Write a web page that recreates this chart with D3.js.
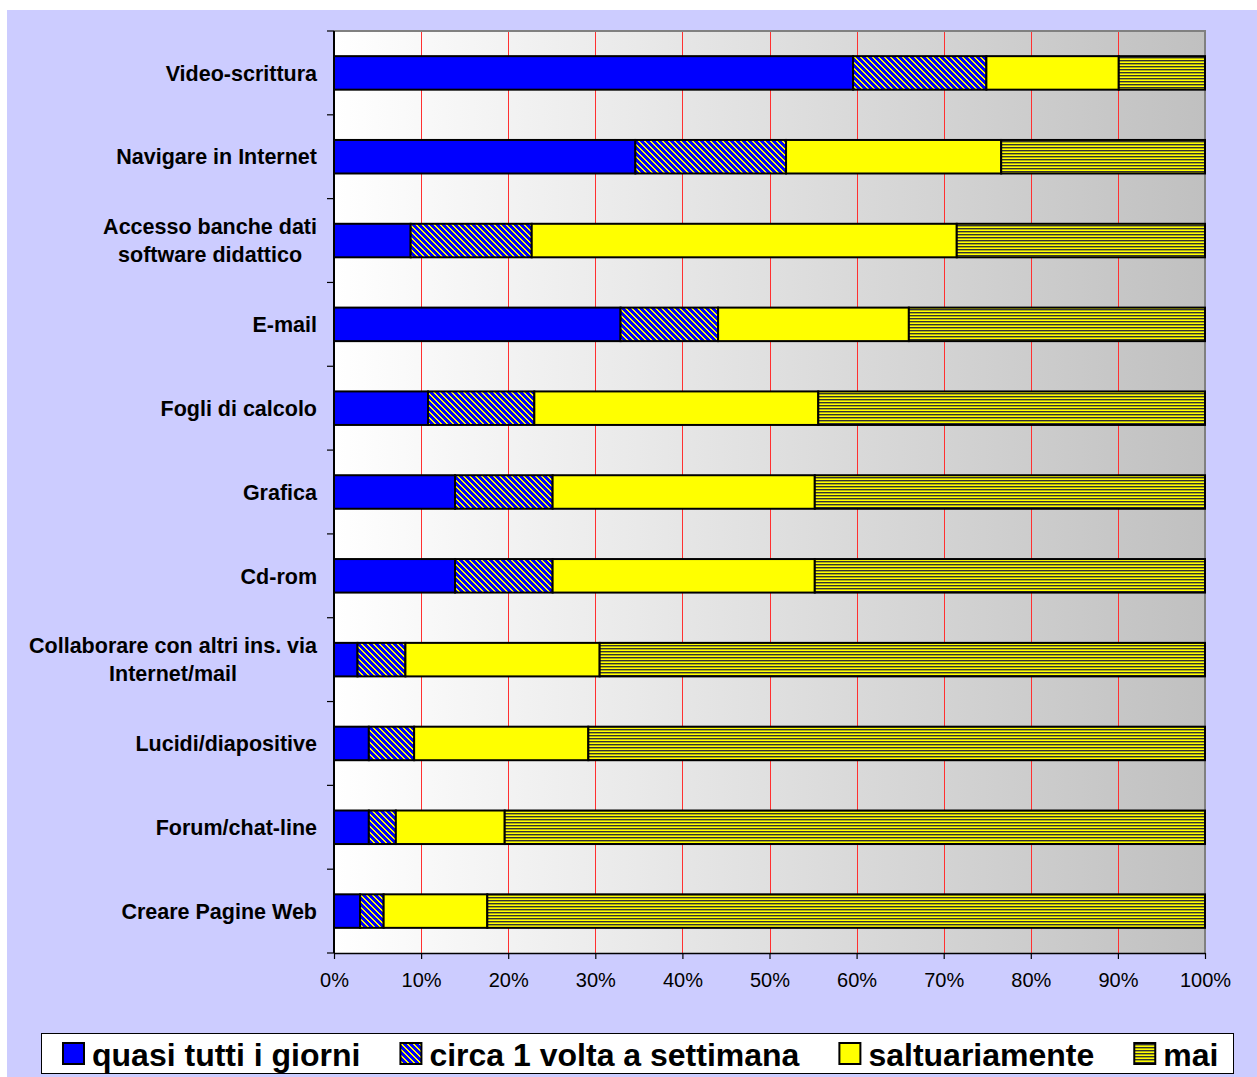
<!DOCTYPE html>
<html>
<head>
<meta charset="utf-8">
<script src="https://cdn.jsdelivr.net/npm/d3@7"></script>
<style>
  html, body { margin: 0; padding: 0; background: #ffffff; }
  svg { display: block; font-family: "Liberation Sans", Arial, sans-serif; }
</style>
</head>
<body>
<svg id="chart" width="1257" height="1077"></svg>
<script>
// Activity categories (top to bottom); "\n" splits a label over two lines
const categories = [
  "Video-scrittura",
  "Navigare in Internet",
  "Accesso banche dati\nsoftware didattico",
  "E-mail",
  "Fogli di calcolo",
  "Grafica",
  "Cd-rom",
  "Collaborare con altri ins. via\nInternet/mail",
  "Lucidi/diapositive",
  "Forum/chat-line",
  "Creare Pagine Web"
];

// Frequency of use, percentages per category
const seriesNames = ["quasi tutti i giorni", "circa 1 volta a settimana", "saltuariamente", "mai"];
const quasiTutti   = [59.6, 34.6,  8.8, 32.9, 10.8, 13.9, 13.9,  2.7,  4.0,  4.0,  3.0];
const circaSett    = [15.3, 17.3, 13.9, 11.2, 12.2, 11.2, 11.2,  5.5,  5.2,  3.1,  2.7];
const saltuario    = [15.2, 24.7, 48.8, 21.9, 32.6, 30.1, 30.1, 22.3, 20.0, 12.5, 11.9];
const mai          = [ 9.9, 23.4, 28.5, 34.0, 44.4, 44.8, 44.8, 69.5, 70.8, 80.4, 82.4];

const tickValues = [0, 10, 20, 30, 40, 50, 60, 70, 80, 90, 100];

const rows = categories.map((c, i) => ({
  cat: c,
  [seriesNames[0]]: quasiTutti[i],
  [seriesNames[1]]: circaSett[i],
  [seriesNames[2]]: saltuario[i],
  [seriesNames[3]]: mai[i]
}));

const svg = d3.select("#chart");
const W = 1257, H = 1077;
const plot = { left: 334, right: 1205, top: 31, bottom: 953 };

// ---- definitions: fills ----
const defs = svg.append("defs");

const grad = defs.append("linearGradient").attr("id", "plotBg")
  .attr("x1", "0").attr("y1", "0").attr("x2", "1").attr("y2", "0");
grad.append("stop").attr("offset", "0").attr("stop-color", "#ffffff");
grad.append("stop").attr("offset", "1").attr("stop-color", "#c0c0c0");

// diagonal blue/yellow hatch (downward diagonal)
const diag = defs.append("pattern").attr("id", "diag")
  .attr("patternUnits", "userSpaceOnUse").attr("width", 6).attr("height", 6);
diag.append("rect").attr("width", 6).attr("height", 6).attr("fill", "#ffff00")
  .attr("shape-rendering", "crispEdges");
diag.append("path")
  .attr("d", "M0,0 L4,0 L6,2 L6,6 Z M0,2 L4,6 L0,6 Z")
  .attr("fill", "#0000ff")
  .attr("shape-rendering", "crispEdges");

// horizontal dark/yellow stripes
const horiz = defs.append("pattern").attr("id", "horiz")
  .attr("patternUnits", "userSpaceOnUse").attr("width", 6).attr("height", 3);
horiz.append("rect").attr("width", 6).attr("height", 3).attr("fill", "#ffff00");
horiz.append("rect").attr("y", 0).attr("width", 6).attr("height", 1.4).attr("fill", "#333333");

const fills = {
  [seriesNames[0]]: "#0000ff",
  [seriesNames[1]]: "url(#diag)",
  [seriesNames[2]]: "#ffff00",
  [seriesNames[3]]: "url(#horiz)"
};

// ---- backgrounds ----
svg.append("rect").attr("x", 7).attr("y", 10).attr("width", W - 7).attr("height", H - 10)
  .attr("fill", "#ccccff");

svg.append("rect")
  .attr("x", plot.left).attr("y", plot.top)
  .attr("width", plot.right - plot.left).attr("height", plot.bottom - plot.top)
  .attr("fill", "url(#plotBg)");

// ---- scales ----
const x = d3.scaleLinear().domain([0, 100]).range([plot.left, plot.right]);
const y = d3.scaleBand().domain(categories).range([plot.top, plot.bottom])
  .paddingInner(0.6).paddingOuter(0.3);
const yCell = d3.scaleBand().domain(categories).range([plot.top, plot.bottom]).padding(0);

// gridlines
svg.append("g").selectAll("line")
  .data(tickValues.filter(v => v > 0 && v < 100))
  .join("line")
  .attr("x1", d => Math.round(x(d)) + 0.5).attr("x2", d => Math.round(x(d)) + 0.5)
  .attr("y1", plot.top).attr("y2", plot.bottom)
  .attr("stroke", "#ff3030").attr("stroke-width", 1);

// plot border (top and right)
svg.append("path")
  .attr("d", `M${plot.left},${plot.top} H${plot.right} V${plot.bottom}`)
  .attr("fill", "none").attr("stroke", "#808080").attr("stroke-width", 2);

// ---- stacked bars ----
const stack = d3.stack().keys(seriesNames);
const layers = stack(rows);

svg.append("g").selectAll("g")
  .data(layers)
  .join("g")
  .attr("fill", d => fills[d.key])
  .selectAll("rect")
  .data(d => d)
  .join("rect")
  .attr("x", d => x(d[0]))
  .attr("y", d => y(d.data.cat))
  .attr("width", d => x(d[1]) - x(d[0]))
  .attr("height", y.bandwidth())
  .attr("stroke", "#000000")
  .attr("stroke-width", 2);

// ---- x axis ----
const xAxis = svg.append("g")
  .attr("transform", `translate(0,${plot.bottom})`)
  .call(d3.axisBottom(x).tickValues(tickValues).tickFormat(d => d + "%")
    .tickSizeInner(6).tickSizeOuter(0).tickPadding(14));
xAxis.select(".domain").attr("stroke", "#000").attr("stroke-width", 1.5);
xAxis.selectAll(".tick line").attr("stroke", "#000").attr("stroke-width", 1.2);
xAxis.selectAll(".tick text")
  .attr("font-size", 20).attr("fill", "#000")
  .attr("font-family", "'Liberation Sans', Arial, sans-serif");

// ---- y axis (line + ticks at category boundaries) ----
svg.append("line")
  .attr("x1", plot.left).attr("x2", plot.left)
  .attr("y1", plot.top).attr("y2", plot.bottom)
  .attr("stroke", "#000").attr("stroke-width", 2);

const boundaries = categories.map(c => yCell(c)).concat([plot.bottom]);
svg.append("g").selectAll("line")
  .data(boundaries)
  .join("line")
  .attr("x1", plot.left - 7).attr("x2", plot.left)
  .attr("y1", d => d).attr("y2", d => d)
  .attr("stroke", "#000").attr("stroke-width", 1.2);

// category labels
const labelRight = 317;
const lineGap = 28;
const labels = svg.append("g")
  .attr("font-size", 21.5).attr("font-weight", "bold").attr("fill", "#000");

categories.forEach(c => {
  const lines = c.split("\n");
  const cy = y(c) + y.bandwidth() / 2;
  const g = labels.append("g");
  const texts = lines.map((ln, i) =>
    g.append("text")
      .attr("y", cy + (i - (lines.length - 1) / 2) * lineGap)
      .attr("dy", "0.36em")
      .text(ln));
  const maxW = d3.max(texts, t => t.node().getComputedTextLength());
  texts.forEach(t => t.attr("x", labelRight - maxW / 2).attr("text-anchor", "middle"));
});

// ---- legend ----
const legend = svg.append("g");
legend.append("rect")
  .attr("x", 41.5).attr("y", 1033.5).attr("width", 1192).attr("height", 40)
  .attr("fill", "#ffffff").attr("stroke", "#000").attr("stroke-width", 1);

let lx = 63;
const legendGap = 40;
seriesNames.forEach(name => {
  const item = legend.append("g");
  item.append("rect")
    .attr("x", lx).attr("y", 1043).attr("width", 21).attr("height", 21)
    .attr("fill", fills[name]).attr("stroke", "#000").attr("stroke-width", 2);
  const t = item.append("text")
    .attr("x", lx + 29).attr("y", 1066)
    .attr("font-size", 32).attr("font-weight", "bold").attr("fill", "#000")
    .text(name);
  lx = lx + 29 + t.node().getComputedTextLength() + legendGap;
});
</script>
</body>
</html>
